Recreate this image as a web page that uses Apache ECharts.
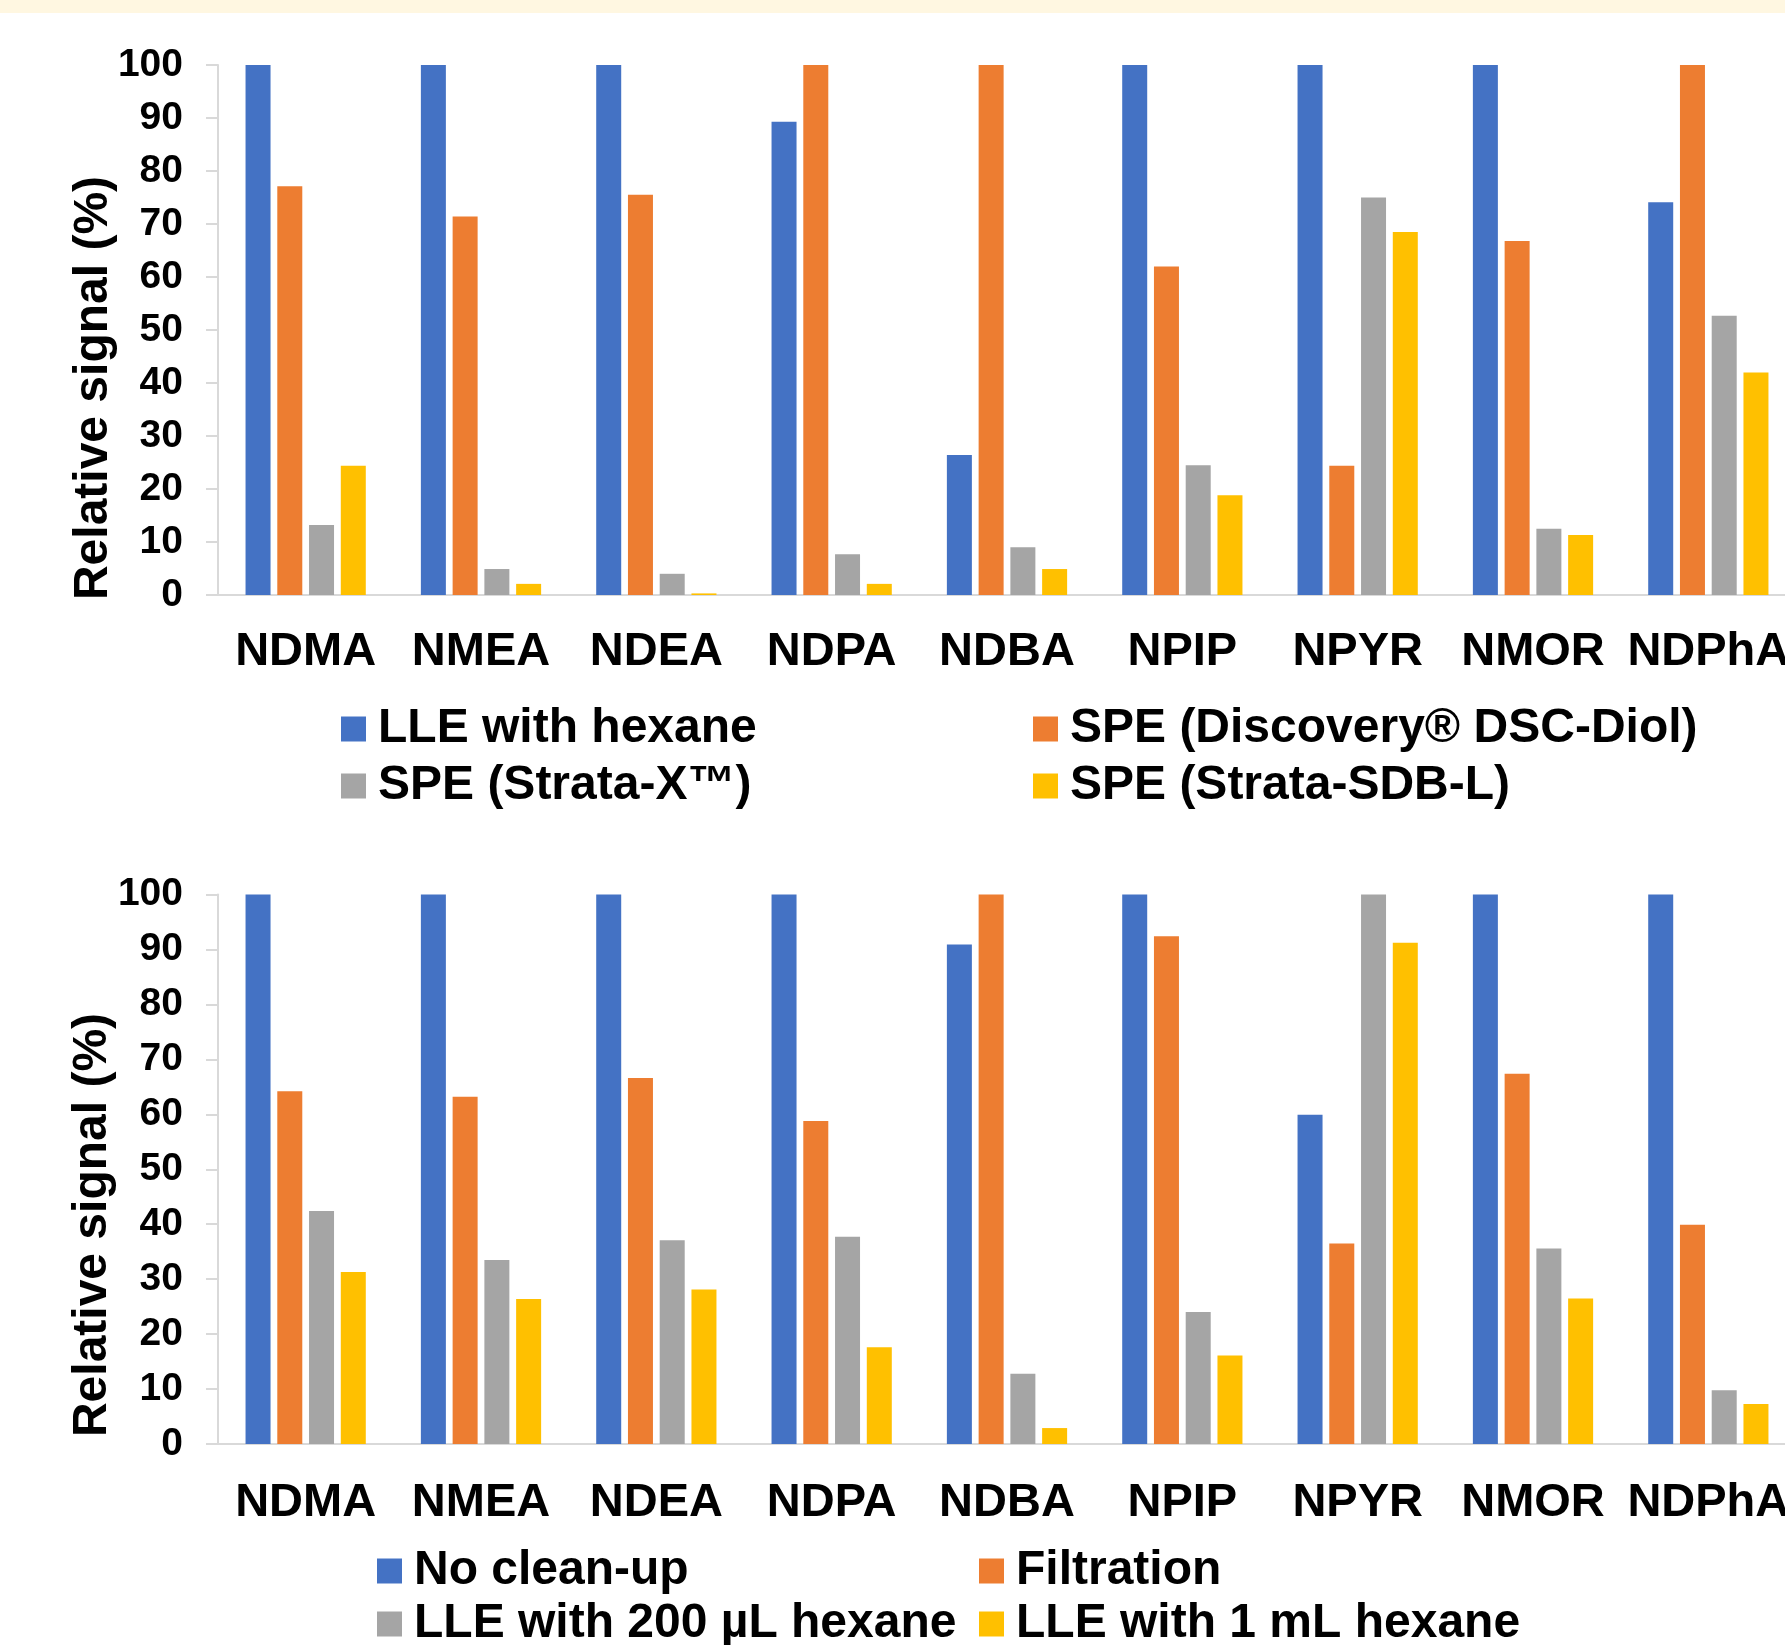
<!DOCTYPE html>
<html>
<head>
<meta charset="utf-8">
<title>Relative signal</title>
<script src="https://cdn.jsdelivr.net/npm/echarts@6/dist/echarts.min.js"></script>
<style>
  html, body { margin: 0; padding: 0; background: #fff; overflow: hidden; }
  /* a bit wider than the window: the last category runs past the right edge */
  #chart { width: 1800px; height: 1645px; }
</style>
</head>
<body>
<div id="chart"></div>
<script>
  // categories
  var compounds = ['NDMA', 'NMEA', 'NDEA', 'NDPA', 'NDBA', 'NPIP', 'NPYR', 'NMOR', 'NDPhA'];
  // y axis ticks (0..100 step 10)
  var yMin = 0;
  var yMax = 100;
  var yStep = 10;

  // top panel
  var topNames = ['LLE with hexane', 'SPE (Discovery® DSC-Diol)', 'SPE (Strata-X™)', 'SPE (Strata-SDB-L)'];
  var lleHexane = [100, 100, 100, 89.3, 26.4, 100, 100, 100, 74.1];
  var speDiol = [77.1, 71.4, 75.5, 100, 100, 62.0, 24.4, 66.8, 100];
  var speStrataX = [13.2, 4.9, 4.0, 7.7, 9.0, 24.5, 75.0, 12.5, 52.7];
  var speSdbL = [24.4, 2.1, 0.3, 2.1, 4.9, 18.8, 68.5, 11.3, 42.0];

  // bottom panel
  var bottomNames = ['No clean-up', 'Filtration', 'LLE with 200 µL hexane', 'LLE with 1 mL hexane'];
  var noCleanup = [100, 100, 100, 100, 90.9, 100, 59.9, 100, 100];
  var filtration = [64.2, 63.2, 66.6, 58.8, 100, 92.4, 36.5, 67.4, 39.9];
  var lle200 = [42.4, 33.5, 37.1, 37.7, 12.8, 24.0, 100, 35.6, 9.8];
  var lle1ml = [31.3, 26.4, 28.1, 17.6, 2.9, 16.1, 91.2, 26.5, 7.3];

  var colors = ['#4472C4', '#ED7D31', '#A5A5A5', '#FFC000'];
  var font = '"Liberation Sans", Arial, sans-serif';

  function xAxisFor (idx, margin) {
    return {
      type: 'category',
      gridIndex: idx,
      data: compounds,
      axisLine: { lineStyle: { color: '#d9d9d9', width: 2 } },
      axisTick: { show: false },
      axisLabel: { interval: 0, margin: margin, color: '#000', fontSize: 47, fontWeight: 'bold', fontFamily: font }
    }
  }

  function yAxisFor (idx) {
    return {
      type: 'value',
      gridIndex: idx,
      min: yMin,
      max: yMax,
      interval: yStep,
      splitLine: { show: false },
      axisLine: { show: true, lineStyle: { color: '#d9d9d9', width: 2 } },
      axisTick: { show: true, length: 12, lineStyle: { color: '#d9d9d9', width: 2 } },
      axisLabel: { margin: 35, color: '#000', fontSize: 39, fontWeight: 'bold', fontFamily: font }
    }
  }

  function barSeries (name, data, i, idx) {
    return {
      name: name,
      type: 'bar',
      xAxisIndex: idx,
      yAxisIndex: idx,
      data: data,
      barWidth: 25,
      barGap: '27%',
      itemStyle: { color: colors[i] }
    }
  }

  function legendItem (name, left, top) {
    return {
      data: [name],
      left: left,
      top: top,
      padding: 0,
      icon: 'rect',
      itemWidth: 25,
      itemHeight: 25,
      selectedMode: false,
      textStyle: { color: '#000', fontSize: 48, fontWeight: 'bold', fontFamily: font, padding: [0, 0, 0, 7] }
    }
  }

  function yTitle (x, y) {
    return {
      type: 'text',
      x: x,
      y: y,
      rotation: Math.PI / 2,
      style: {
        text: 'Relative signal (%)',
        fill: '#000',
        font: 'bold 48px ' + font,
        textAlign: 'center',
        textVerticalAlign: 'middle',
        align: 'center',
        verticalAlign: 'middle'
      }
    }
  }

  var topData = [lleHexane, speDiol, speStrataX, speSdbL];
  var bottomData = [noCleanup, filtration, lle200, lle1ml];
  var series = [];
  for (var i = 0; i < 4; i++) {
    series.push(barSeries(topNames[i], topData[i], i, 0));
  }
  for (var j = 0; j < 4; j++) {
    series.push(barSeries(bottomNames[j], bottomData[j], j, 1));
  }

  var option = {
    animation: false,
    backgroundColor: '#fff',
    grid: [
      { left: 218, top: 65, width: 1578, height: 530 },
      { left: 218, top: 894.5, width: 1578, height: 549.5 }
    ],
    xAxis: [xAxisFor(0, 34), xAxisFor(1, 36)],
    yAxis: [yAxisFor(0), yAxisFor(1)],
    legend: [
      legendItem(topNames[0], 341, 705),
      legendItem(topNames[1], 1033, 705),
      legendItem(topNames[2], 341, 762),
      legendItem(topNames[3], 1033, 762),
      legendItem(bottomNames[0], 377, 1547),
      legendItem(bottomNames[1], 979, 1547),
      legendItem(bottomNames[2], 377, 1600),
      legendItem(bottomNames[3], 979, 1600)
    ],
    graphic: [
      // cream strip at the top edge
      { type: 'rect', left: 0, top: 0, shape: { width: 1800, height: 13 }, style: { fill: '#FFF7E1' } },
      yTitle(94, 388),
      yTitle(93, 1225)
    ],
    series: series
  };

  var chart = echarts.init(document.getElementById('chart'));
  chart.setOption(option);
</script>
</body>
</html>
